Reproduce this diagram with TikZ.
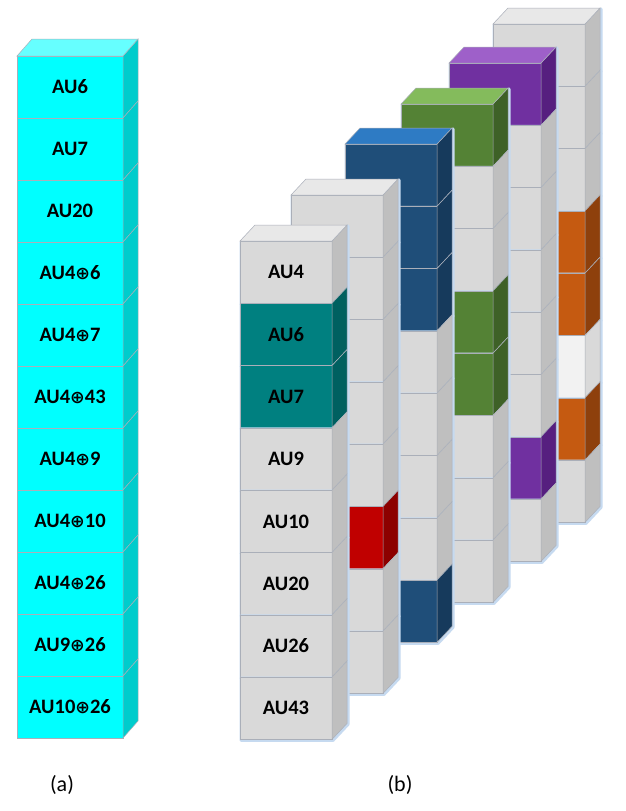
\documentclass[tikz,border=0pt]{standalone}
\usepackage{fontspec}
\setmainfont{Carlito}
\newfontfamily\symf{DejaVu Sans}
\definecolor{edgec}{RGB}{170,175,185}
\definecolor{glowc}{RGB}{198,218,240}
\definecolor{cyF}{RGB}{0,255,255}
\definecolor{cyS}{RGB}{0,204,204}
\definecolor{cyT}{RGB}{102,255,255}
\definecolor{gryF}{RGB}{217,217,217}
\definecolor{gryS}{RGB}{191,191,191}
\definecolor{gryT}{RGB}{232,232,232}
\definecolor{whtF}{RGB}{242,242,242}
\definecolor{whtS}{RGB}{217,217,217}
\definecolor{tealF}{RGB}{0,128,128}
\definecolor{tealS}{RGB}{0,96,96}
\definecolor{redF}{RGB}{192,0,0}
\definecolor{redS}{RGB}{140,0,0}
\definecolor{bluF}{RGB}{31,78,121}
\definecolor{bluS}{RGB}{22,58,92}
\definecolor{bluT}{RGB}{46,123,196}
\definecolor{grnF}{RGB}{84,130,53}
\definecolor{grnS}{RGB}{62,97,39}
\definecolor{grnT}{RGB}{132,187,92}
\definecolor{purF}{RGB}{112,48,160}
\definecolor{purS}{RGB}{86,31,127}
\definecolor{purT}{RGB}{158,96,201}
\definecolor{orgF}{RGB}{197,90,17}
\definecolor{orgS}{RGB}{142,64,12}
\newcommand\op{{\symf\bfseries\fontsize{17.5}{20}\selectfont ⊕}}
% #1 name, #2 x, #3 y, #4 w, #5 h, #6 dx, #7 dy, #8 colour prefix, #9 label
\newcommand\cub[9]{%
  \node[cellbox, fill=#8F, minimum width=#4pt, minimum height=#5pt] (#1) at (#2,#3) {#9};
  \filldraw[fill=#8S, draw=edgec, line width=0.5pt] (#1.north east) -- ++(#6,-#7) -- ++(0,#5) -- (#1.south east) -- cycle;
}
\newcommand\cubg[9]{%
  \draw[glowc, line width=3pt, line join=round] (#2+1,#3+1) -- ++(#4,0) -- ++(#6,-#7) -- ++(0,#5) -- ++(-#6,#7) -- ++(-#4,0) -- cycle;
  \cub{#1}{#2}{#3}{#4}{#5}{#6}{#7}{#8}{#9}%
}
% #1 name, #2 dx, #3 dy, #4 w, #5 colour
\newcommand\cubtop[5]{%
  \filldraw[fill=#5, draw=edgec, line width=0.5pt] (#1.north west) -- ++(#2,-#3) -- ++(#4,0) -- (#1.north east) -- cycle;
}
% #1 column name, #2 x, #3 y, #4 top colour, #5 list row/colour/label
\newcommand\colb[5]{%
  \foreach \ri/\fc/\lab in {#5}{%
    \pgfmathsetmacro\yy{#3+\ri*62.3}%
    \cubg{#1r\ri}{#2}{\yy}{92}{62.3}{15}{16}{\fc}{\lab}%
  }%
  \cubtop{#1r0}{15}{16}{92}{#4}%
}
\begin{document}
\begin{tikzpicture}[x=1pt,y=-1pt,
  cellbox/.style={draw=edgec, line width=0.5pt, inner sep=0pt, outer sep=0pt,
    anchor=north west, text=black, font=\fontsize{20.5}{22}\selectfont\bfseries},
  caption/.style={font=\fontsize{22}{25}\selectfont, inner sep=0pt}]
\useasboundingbox (0,0) rectangle (625,811);
\fill[white] (0,0) rectangle (625,811);
% ---------- (a) ----------
\foreach \ri/\lab in {0/AU6,1/AU7,2/AU20,3/{AU4\op 6},4/{AU4\op 7},5/{AU4\op 43},
  6/{AU4\op 9},7/{AU4\op 10},8/{AU4\op 26},9/{AU9\op 26},10/{AU10\op 26}}{%
  \pgfmathsetmacro\yy{56+\ri*62.0}%
  \cub{a\ri}{17}{\yy}{106}{62.0}{15}{17}{cy}{\lab}%
}
\cubtop{a0}{15}{17}{106}{cyT}
% ---------- (b) ----------
\colb{f}{493}{24}{gryT}{0/gry/{},1/gry/{},2/gry/{},3/org/{},4/org/{},5/wht/{},6/org/{},7/gry/{}}
\colb{e}{449}{63}{purT}{0/pur/{},1/gry/{},2/gry/{},3/gry/{},4/gry/{},5/gry/{},6/pur/{},7/gry/{}}
\colb{d}{401}{104}{grnT}{0/grn/{},1/gry/{},2/gry/{},3/grn/{},4/grn/{},5/gry/{},6/gry/{},7/gry/{}}
\colb{c}{345}{144}{bluT}{0/blu/{},1/blu/{},2/blu/{},3/gry/{},4/gry/{},5/gry/{},6/gry/{},7/blu/{}}
\colb{b}{291}{195}{gryT}{0/gry/{},1/gry/{},2/gry/{},3/gry/{},4/gry/{},5/red/{},6/gry/{},7/gry/{}}
\colb{a}{240}{241}{gryT}{0/gry/AU4,1/teal/AU6,2/teal/AU7,3/gry/AU9,4/gry/AU10,5/gry/AU20,6/gry/AU26,7/gry/AU43}
% captions
\node[caption] (capa) at (62,785) {(a)};
\node[caption] (capb) at (400,785) {(b)};
\end{tikzpicture}
\end{document}
